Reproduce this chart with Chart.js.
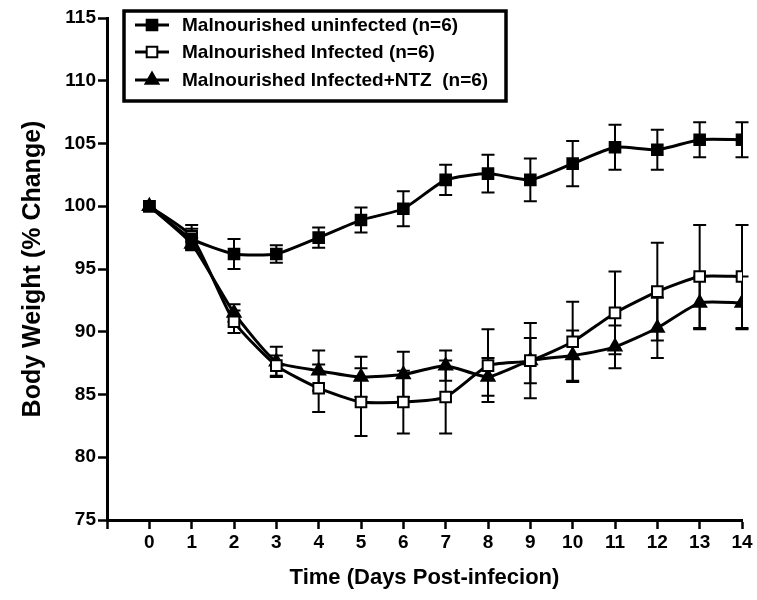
<!DOCTYPE html>
<html>
<head>
<meta charset="utf-8">
<script src="https://cdn.jsdelivr.net/npm/chart.js@4.4.1/dist/chart.umd.min.js"></script>
<style>
  html, body { margin: 0; padding: 0; background: #fff; }
  #wrap { width: 757px; height: 600px; }
</style>
</head>
<body>
<div id="wrap"><canvas id="weightchart"></canvas></div>
<script>
const days = [0, 1, 2, 3, 4, 5, 6, 7, 8, 9, 10, 11, 12, 13, 14];
const seriesNames = ['Malnourished uninfected (n=6)', 'Malnourished Infected (n=6)', 'Malnourished Infected+NTZ  (n=6)'];
const uninfected = [100, 97.4, 96.2, 96.2, 97.5, 98.9, 99.8, 102.1, 102.6, 102.1, 103.4, 104.7, 104.5, 105.3, 105.3];
const uninfectedErr = [0, 0.8, 1.2, 0.7, 0.8, 1.0, 1.4, 1.2, 1.5, 1.7, 1.8, 1.8, 1.6, 1.4, 1.4];
const infected = [100, 97.6, 90.8, 87.3, 85.5, 84.4, 84.4, 84.8, 87.3, 87.7, 89.2, 91.5, 93.2, 94.4, 94.4];
const infectedErr = [0, 0.9, 0.9, 0.8, 1.9, 2.7, 2.5, 2.9, 2.9, 3.0, 3.2, 3.3, 3.9, 4.1, 4.1];
const ntz = [100, 97.0, 91.5, 87.6, 86.9, 86.4, 86.6, 87.3, 86.4, 87.7, 88.1, 88.8, 90.3, 92.3, 92.3];
const ntzErr = [0, 0.5, 0.7, 1.2, 1.6, 1.6, 1.8, 1.2, 1.5, 1.8, 2.0, 1.7, 2.4, 2.1, 2.1];
const yTicks = [75, 80, 85, 90, 95, 100, 105, 110, 115];

const FONT = '"Liberation Sans", Arial, sans-serif';

function points(vals){
    return days.map((d, i) => ({x: d, y: vals[i]}));
}

// error bars drawn under the markers, through the chart scales
const errorBars = {
    id: 'errorBars',
    beforeDatasetsDraw(chart){
        const ctx = chart.ctx;
        const xs = chart.scales.x, ys = chart.scales.y;
        ctx.save();
        ctx.strokeStyle = '#000';
        ctx.lineWidth = 2;
        chart.data.datasets.forEach(ds => {
            ds.errors.forEach((e, i) => {
                if (!e) return;
                const x = xs.getPixelForValue(days[i]);
                const top = ys.getPixelForValue(ds.data[i].y + e);
                const bot = ys.getPixelForValue(ds.data[i].y - e);
                ctx.beginPath();
                ctx.moveTo(x, top); ctx.lineTo(x, bot);
                ctx.moveTo(x - 6.5, top); ctx.lineTo(x + 6.5, top);
                ctx.moveTo(x - 6.5, bot); ctx.lineTo(x + 6.5, bot);
                ctx.stroke();
            });
        });
        ctx.restore();
    }
};

// boxed legend like the original figure
const boxLegend = {
    id: 'boxLegend',
    afterDraw(chart){
        const ctx = chart.ctx;
        ctx.save();
        ctx.fillStyle = '#fff';
        ctx.fillRect(124, 11, 382, 90);
        ctx.strokeStyle = '#000';
        ctx.lineWidth = 3.5;
        ctx.strokeRect(124, 11, 382, 90);
        const rows = [25, 52, 80];
        chart.data.datasets.forEach((ds, i) => {
            const y = rows[i];
            ctx.strokeStyle = '#000';
            ctx.lineWidth = 3;
            ctx.beginPath();
            ctx.moveTo(135, y); ctx.lineTo(169, y);
            ctx.stroke();
            ctx.fillStyle = ds.pointBackgroundColor;
            ctx.strokeStyle = ds.pointBorderColor;
            ctx.lineWidth = ds.pointBorderWidth;
            Chart.helpers.drawPoint(ctx, {pointStyle: ds.pointStyle, radius: ds.pointRadius, rotation: 0, borderWidth: ds.pointBorderWidth}, 152, y);
            ctx.fillStyle = '#000';
            ctx.font = 'bold 19px ' + FONT;
            ctx.textAlign = 'left';
            ctx.textBaseline = 'middle';
            ctx.fillText(ds.label, 182, y + 1);
        });
        ctx.restore();
    }
};

function makeSet(label, vals, errs, style, fill, radius){
    return {
        label: label,
        data: points(vals),
        errors: errs,
        borderColor: '#000',
        borderWidth: 3,
        pointStyle: style,
        pointRadius: radius,
        pointHoverRadius: radius,
        pointBackgroundColor: fill,
        pointBorderColor: '#000',
        pointBorderWidth: 2,
        tension: 0.18
    };
}

new Chart(document.getElementById('weightchart').getContext('2d'), {
    type: 'line',
    data: {
        datasets: [
            makeSet(seriesNames[0], uninfected, uninfectedErr, 'rect', '#000', 7.5),
            makeSet(seriesNames[1], infected, infectedErr, 'rect', '#fff', 7.5),
            makeSet(seriesNames[2], ntz, ntzErr, 'triangle', '#000', 7.5)
        ]
    },
    options: {
        responsive: true,
        maintainAspectRatio: false,
        animation: false,
        layout: {padding: {top: 18, right: 15, left: 0, bottom: 0}},
        plugins: {legend: {display: false}, tooltip: {enabled: false}},
        scales: {
            x: {
                type: 'linear',
                min: -1,
                max: 14,
                afterFit(scale){ scale.height = 80; },
                ticks: {
                    stepSize: 1,
                    color: '#000',
                    padding: 2,
                    font: {family: FONT, size: 19, weight: 'bold'},
                    callback: v => v < 0 ? '' : v
                },
                grid: {drawOnChartArea: false, tickLength: 9, tickWidth: 2.5, tickColor: '#000'},
                border: {color: '#000', width: 3},
                title: {
                    display: true,
                    text: 'Time (Days Post-infecion)',
                    color: '#000',
                    font: {family: FONT, size: 22, weight: 'bold', lineHeight: 1.6}
                }
            },
            y: {
                min: 75,
                max: 115,
                afterFit(scale){ scale.width = 107; },
                afterBuildTicks(scale){ scale.ticks = yTicks.map(v => ({value: v})); },
                ticks: {
                    color: '#000',
                    padding: 2,
                    font: {family: FONT, size: 19, weight: 'bold'}
                },
                grid: {drawOnChartArea: false, tickLength: 9, tickWidth: 2.5, tickColor: '#000'},
                border: {color: '#000', width: 3},
                title: {
                    display: true,
                    text: 'Body Weight (% Change)',
                    color: '#000',
                    font: {family: FONT, size: 25, weight: 'bold', lineHeight: 2.3}
                }
            }
        }
    },
    plugins: [errorBars, boxLegend]
});
</script>
</body>
</html>
